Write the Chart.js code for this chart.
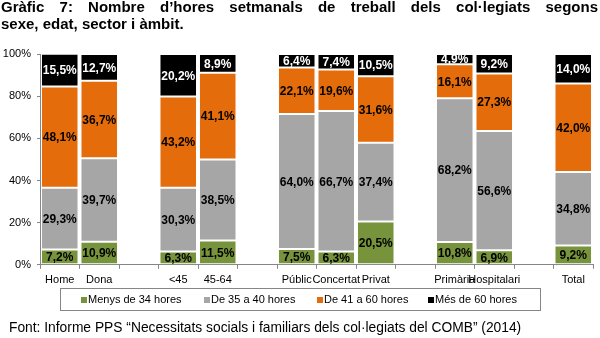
<!DOCTYPE html>
<html>
<head>
<meta charset="utf-8">
<script src="https://cdn.jsdelivr.net/npm/chart.js@4/dist/chart.umd.min.js"></script>
<style>
  html, body { margin: 0; padding: 0; background: #fff; }
  body { width: 600px; height: 338px; position: relative; overflow: hidden; font-family: "Liberation Sans", Arial, sans-serif; }
  #title { position: absolute; left: 1px; top: -1px; width: 597px; font-weight: bold; font-size: 15px; line-height: 16.5px; color: #000; }
  #title .l1 { display: block; text-align: justify; text-align-last: justify; }
  #wrap { position: absolute; left: 0; top: 0; width: 600px; height: 338px; }
  #legend { position: absolute; left: 60px; top: 288px; width: 481px; height: 23px; border: 1px solid #868686; box-sizing: border-box; font-size: 11px; color: #000; }
  .li { position: absolute; top: 4px; white-space: nowrap; line-height: 13px; }
  .mk { display: inline-block; width: 6px; height: 6px; margin-right: 1px; vertical-align: 0px; }
  #source { position: absolute; left: 9px; top: 320px; font-size: 13.8px; line-height: 16px; color: #000; white-space: nowrap; }
</style>
</head>
<body>
<div id="wrap"><canvas id="c" width="600" height="338"></canvas></div>
<div id="title"><span class="l1">Gràfic 7: Nombre d’hores setmanals de treball dels col·legiats segons</span>sexe, edat, sector i àmbit.</div>
<div id="legend"></div>
<div id="source">Font: Informe PPS “Necessitats socials i familiars dels col·legiats del COMB” (2014)</div>
<script>
const categories = ['Home','Dona','','<45','45-64','','Públic','Concertat','Privat','','Primària','Hospitalari','','Total'];
const seriesNames = ['Menys de 34 hores','De 35 a 40 hores','De 41 a 60 hores','Més de 60 hores'];
const menys34  = [7.2, 10.9, null, 6.3, 11.5, null, 7.5, 6.3, 20.5, null, 10.8, 6.9, null, 9.2];
const de35a40  = [29.3, 39.7, null, 30.3, 38.5, null, 64.0, 66.7, 37.4, null, 68.2, 56.6, null, 34.8];
const de41a60  = [48.1, 36.7, null, 43.2, 41.1, null, 22.1, 19.6, 31.6, null, 16.1, 27.3, null, 42.0];
const mes60    = [15.5, 12.7, null, 20.2, 8.9, null, 6.4, 7.4, 10.5, null, 4.9, 9.2, null, 14.0];
const yTicks = [0, 20, 40, 60, 80, 100];

const colors = ['#77933C', '#A6A6A6', '#E46C0A', '#000000'];
const labelColors = ['#000', '#000', '#000', '#fff'];
const seriesData = [menys34, de35a40, de41a60, mes60];

// HTML legend
const legendPos = [81, 204, 317, 428];
const lg = document.getElementById('legend');
seriesNames.forEach((n, i) => {
  const d = document.createElement('span');
  d.className = 'li';
  d.style.left = (legendPos[i] - 61) + 'px';
  d.innerHTML = '<span class="mk" style="background:' + colors[i] + '"></span>' + n;
  lg.appendChild(d);
});

const valueLabels = {
  id: 'valueLabels',
  afterDatasetsDraw(chart) {
    const ctx = chart.ctx;
    ctx.save();
    ctx.font = 'bold 12px "Liberation Sans", Arial, sans-serif';
    ctx.textAlign = 'center';
    ctx.textBaseline = 'middle';
    chart.data.datasets.forEach((ds, di) => {
      const meta = chart.getDatasetMeta(di);
      meta.data.forEach((el, i) => {
        const v = ds.data[i];
        if (v == null) return;
        const p = el.getProps(['x', 'y', 'base'], true);
        ctx.fillStyle = labelColors[di];
        ctx.fillText(v.toFixed(1).replace('.', ',') + '%', p.x, (p.y + p.base) / 2 + 1);
      });
    });
    ctx.restore();
  }
};

new Chart(document.getElementById('c'), {
  type: 'bar',
  data: {
    labels: categories,
    datasets: seriesData.map((d, i) => ({
      label: seriesNames[i],
      data: d,
      backgroundColor: colors[i],
      borderColor: '#ffffff',
      borderWidth: 1,
      borderSkipped: false,
      categoryPercentage: 1,
      barPercentage: 0.95
    }))
  },
  options: {
    responsive: false,
    animation: false,
    devicePixelRatio: 1,
    layout: { padding: { top: 54, right: 7, bottom: 46, left: 0 } },
    plugins: { legend: { display: false }, tooltip: { enabled: false }, title: { display: false } },
    scales: {
      x: {
        stacked: true,
        offset: true,
        grid: { display: true, offset: true, drawOnChartArea: false, drawTicks: true, tickLength: 4, color: '#868686' },
        border: { display: true, color: '#868686' },
        ticks: { autoSkip: false, maxRotation: 0, minRotation: 0, padding: 5, color: '#000', font: { family: '"Liberation Sans", Arial, sans-serif', size: 11 } }
      },
      y: {
        stacked: true,
        min: 0, max: 100,
        afterFit(scale) { scale.width = 40; },
        afterBuildTicks(scale) { scale.ticks = yTicks.map(v => ({ value: v })); },
        grid: { display: true, drawOnChartArea: false, drawTicks: true, tickLength: 3, color: '#868686' },
        border: { display: true, color: '#868686' },
        ticks: { padding: 6, color: '#000', callback: v => v + '%', font: { family: '"Liberation Sans", Arial, sans-serif', size: 11 } }
      }
    }
  },
  plugins: [valueLabels]
});
</script>
</body>
</html>
